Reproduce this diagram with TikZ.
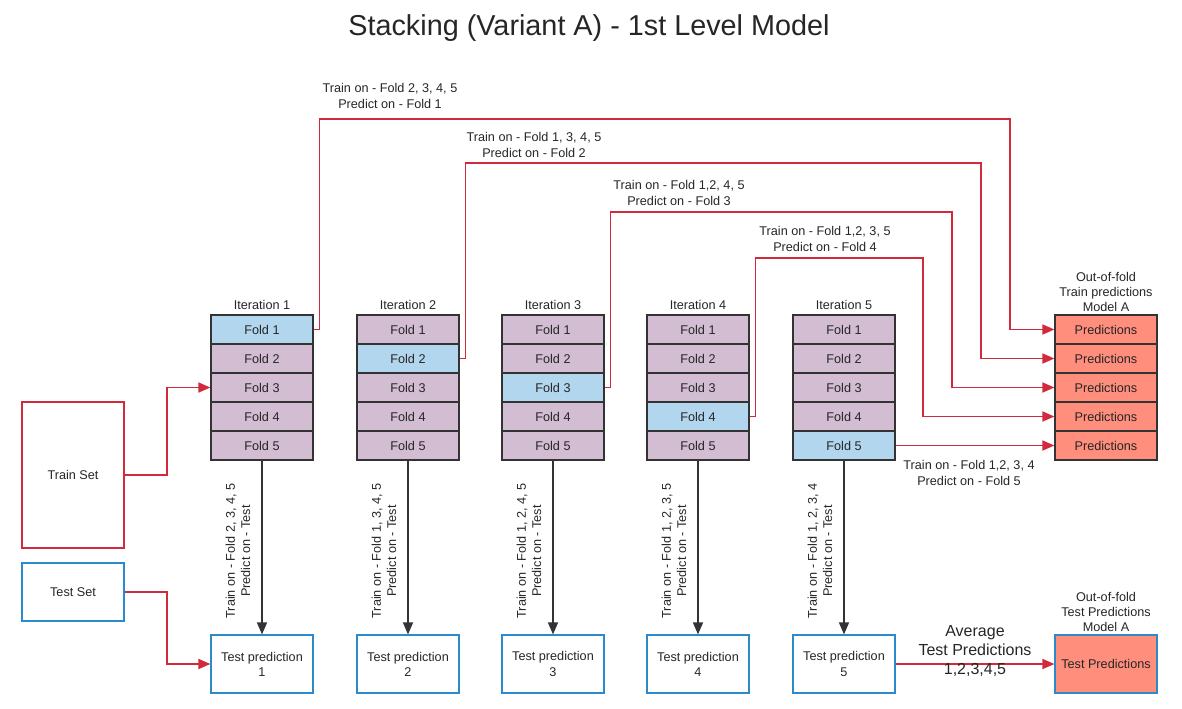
\documentclass[tikz,border=0pt]{standalone}
\usepackage{fontspec}
\setmainfont{Liberation Sans}
\usetikzlibrary{arrows.meta}
\definecolor{foldblue}{HTML}{B3D6EF}
\definecolor{foldpurple}{HTML}{D3BDD2}
\definecolor{predsalmon}{HTML}{FF8E7C}
\definecolor{linered}{HTML}{D12A3C}
\definecolor{setblue}{HTML}{2B8ACB}
\begin{document}
\begin{tikzpicture}[x=0.75pt,y=-0.75pt,
				txt/.style={text=black!85, font=\fontsize{9.5}{11.4}\selectfont},
				fold/.style={txt, rectangle, draw=black!80, line width=0.9pt,
					minimum width=76.5pt, minimum height=21.75pt, inner sep=0pt},
				predbox/.style={fold, fill=predsalmon},
				testbox/.style={txt, rectangle, draw=setblue, line width=0.9pt, align=center,
					minimum width=76.5pt, minimum height=43.5pt, inner sep=0pt},
				lbl/.style={txt, align=center, inner sep=0pt},
				redarrow/.style={-{Triangle[length=9pt,width=7.5pt]}, draw=linered, line width=1.3pt},
				blackarrow/.style={-{Triangle[length=9pt,width=7.5pt]}, draw=black!80, line width=1.1pt}
				]
				\useasboundingbox (0,0) rectangle (1182,708);
				\node[font=\fontsize{21.6}{26}\selectfont, text=black!85] (title) at (589,28) {Stacking (Variant A) - 1st Level Model};
				
				% iterations with their folds
				\foreach \i/\c/\rest in {1/262/{2, 3, 4, 5}, 2/408/{1, 3, 4, 5}, 3/553/{1, 2, 4, 5},
					4/698/{1, 2, 3, 5}, 5/844/{1, 2, 3, 4}} {
					\node[lbl] (it\i) at (\c,305) {Iteration \i};
					\foreach \j in {1,...,5} {
						\ifnum\i=\j\def\fc{foldblue}\else\def\fc{foldpurple}\fi
						\node[fold, fill=\fc] (f\i\j) at (\c,{329.5+29*(\j-1)}) {Fold \j};
					}
					\node[testbox] (t\i) at (\c,664) {Test prediction\\\i};
					\draw[blackarrow] (f\i5.south) -- (t\i.north);
					\node[lbl, rotate=90] (r\i) at (\c-24,551) {Train on - Fold \rest\\Predict on - Test};
				}
				
				% out-of-fold predictions
				\node[lbl] (ooftrain) at (1106,292) {Out-of-fold\\Train predictions\\Model A};
				\foreach \j in {1,...,5}
					\node[predbox] (p\j) at (1106,{329.5+29*(\j-1)}) {Predictions};
				\node[lbl] (ooftest) at (1106,612) {Out-of-fold\\Test Predictions\\Model A};
				\node[testbox, fill=predsalmon] (testpreds) at (1106,664) {Test Predictions};
				
				% train and test set
				\node[testbox, draw=linered, minimum height=109.5pt] (trainset) at (73,475) {Train Set};
				\node[testbox] (testset) at (73,592) {Test Set};
				\draw[redarrow] (trainset.east) -- (167,475) |- (f13.west);
				\draw[redarrow] (testset.east) -- (167,592) |- (t1.west);
				
				% fold predictions
				\draw[redarrow] (f11.east) -- ++(6,0) |- (1010,119) |- (p1.west);
				\draw[redarrow] (f22.east) -- ++(6,0) |- (981,163) |- (p2.west);
				\draw[redarrow] (f33.east) -- ++(6,0) |- (952,212) |- (p3.west);
				\draw[redarrow] (f44.east) -- ++(6,0) |- (923,258) |- (p4.west);
				\draw[redarrow] (f55.east) -- (p5.west);
				\node[lbl] (l1) at (390,96) {Train on - Fold 2, 3, 4, 5\\Predict on - Fold 1};
				\node[lbl] (l2) at (534,145) {Train on - Fold 1, 3, 4, 5\\Predict on - Fold 2};
				\node[lbl] (l3) at (679,193) {Train on - Fold 1,2, 4, 5\\Predict on - Fold 3};
				\node[lbl] (l4) at (825,239) {Train on - Fold 1,2, 3, 5\\Predict on - Fold 4};
				\node[lbl] (l5) at (969,473) {Train on - Fold 1,2, 3, 4\\Predict on - Fold 5};
				
				% averaging
				\draw[redarrow] (t5.east) -- (testpreds.west);
				\node[lbl, font=\fontsize{12}{14.6}\selectfont] (avg) at (975,651) {Average\\Test Predictions\\1,2,3,4,5};
		\end{tikzpicture}
\end{document}
